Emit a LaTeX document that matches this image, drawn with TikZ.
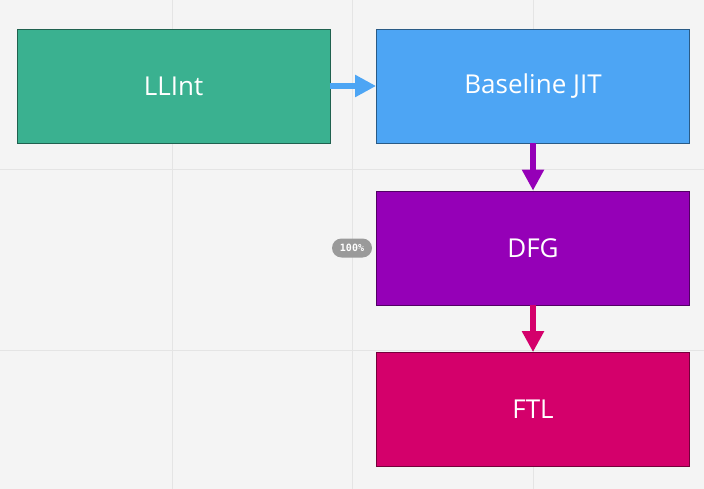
\documentclass[tikz,border=0pt]{standalone}
\usepackage{fontspec}
\setmainfont{Open Sans}
\newfontfamily\badgefont{DejaVu Sans Mono}
\usetikzlibrary{arrows.meta}
\definecolor{bggray}{HTML}{F4F4F4}
\definecolor{gridgray}{HTML}{E4E4E4}
\definecolor{llintgreen}{HTML}{3AB190}
\definecolor{baseblue}{HTML}{4DA5F4}
\definecolor{dfgpurple}{HTML}{9500B7}
\definecolor{ftlred}{HTML}{D4006B}
\definecolor{badgegray}{HTML}{9A9A9A}
\tikzset{
	tier/.style = {draw = #1!55!black, fill = #1, line width = .8pt,
		minimum width = 313pt, minimum height = 114pt, inner sep = 0pt,
		text = white, font = \fontsize{26}{31}\selectfont},
	tierarrow/.style = {draw = #1, line width = 5.5pt,
		-{Triangle[length=21pt, width=21pt]}, shorten >= 0pt}
}
\begin{document}
\begin{tikzpicture}[x = 1pt, y = -1pt]
	\useasboundingbox [fill = bggray] (0,0) rectangle (704,489);
	
	\draw [gridgray, line width = 1pt] (172,0) -- (172,489);
	\draw [gridgray, line width = 1pt] (352.5,0) -- (352.5,489);
	\draw [gridgray, line width = 1pt] (533,0) -- (533,489);
	\draw [gridgray, line width = 1pt] (0,170) -- (704,170);
	\draw [gridgray, line width = 1pt] (0,350) -- (704,350);
	
	\node [tier = llintgreen] (llint) at (173.5, 86) {LLInt};
	\node [tier = baseblue] (baseline) at (533, 86) {Baseline JIT};
	\node [tier = dfgpurple] (dfg) at (533, 248) {DFG};
	\node [tier = ftlred] (ftl) at (533, 409.5) {FTL};
	
	\draw [tierarrow = baseblue] (llint.east) -- (baseline.west);
	\draw [tierarrow = dfgpurple] (baseline.south) -- (dfg.north);
	\draw [tierarrow = ftlred] (dfg.south) -- (ftl.north);
	
	\node [fill = badgegray, rounded corners = 9.5pt, minimum width = 40pt,
		minimum height = 19pt, inner sep = 0pt, text = white,
		font = \badgefont\bfseries\fontsize{10}{12}\selectfont] (zoom) at (352, 248) {100\%};
\end{tikzpicture}
\end{document}
